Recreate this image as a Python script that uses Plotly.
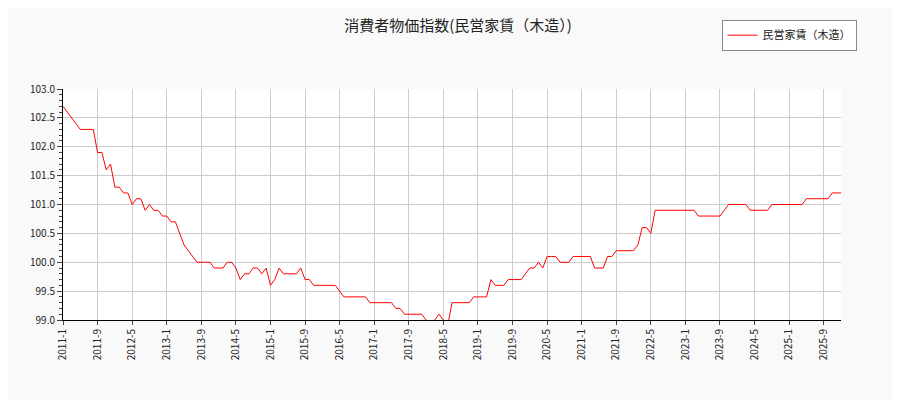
import plotly.graph_objects as go
import pandas as pd

y2011 = [102.7,102.6,102.5,102.4,102.3,102.3,102.3,102.3,101.9,101.9,101.6,101.7]
y2012 = [101.3,101.3,101.2,101.2,101.0,101.1,101.1,100.9,101.0,100.9,100.9,100.8]
y2013 = [100.8,100.7,100.7,100.5,100.3,100.2,100.1,100.0,100.0,100.0,100.0,99.9]
y2014 = [99.9,99.9,100.0,100.0,99.9,99.7,99.8,99.8,99.9,99.9,99.8,99.9]
y2015 = [99.6,99.7,99.9,99.8,99.8,99.8,99.8,99.9,99.7,99.7,99.6,99.6]
y2016 = [99.6,99.6,99.6,99.6,99.5,99.4,99.4,99.4,99.4,99.4,99.4,99.3]
y2017 = [99.3,99.3,99.3,99.3,99.3,99.2,99.2,99.1,99.1,99.1,99.1,99.1]
y2018 = [99.0,98.9,99.0,99.1,99.0,98.9,99.3,99.3,99.3,99.3,99.3,99.4]
y2019 = [99.4,99.4,99.4,99.7,99.6,99.6,99.6,99.7,99.7,99.7,99.7,99.8]
y2020 = [99.9,99.9,100.0,99.9,100.1,100.1,100.1,100.0,100.0,100.0,100.1,100.1]
y2021 = [100.1,100.1,100.1,99.9,99.9,99.9,100.1,100.1,100.2,100.2,100.2,100.2]
y2022 = [100.2,100.3,100.6,100.6,100.5,100.9,100.9,100.9,100.9,100.9,100.9,100.9]
y2023 = [100.9,100.9,100.9,100.8,100.8,100.8,100.8,100.8,100.8,100.9,101.0,101.0]
y2024 = [101.0,101.0,101.0,100.9,100.9,100.9,100.9,100.9,101.0,101.0,101.0,101.0]
y2025 = [101.0,101.0,101.0,101.0,101.1,101.1,101.1,101.1,101.1,101.1,101.2,101.2]
y2026 = [101.2]

values = (y2011+y2012+y2013+y2014+y2015+y2016+y2017+y2018+y2019+y2020
          +y2021+y2022+y2023+y2024+y2025+y2026)
dates = pd.date_range("2011-01-01", periods=len(values), freq="MS")
labels = [f"{d.year}-{d.month}" for d in dates]
x = list(range(len(values)))
tick_idx = list(range(0, len(values), 8))
tick_text = [labels[i] for i in tick_idx]

fig = go.Figure(go.Scatter(x=x, y=values, mode="lines", name="民営家賃（木造）",
                           line=dict(color="red", width=1)))
fig.update_layout(
    width=900, height=400,
    paper_bgcolor="#f9f9f9", plot_bgcolor="white",
    margin=dict(l=55, r=67, t=72, b=88),
    title=dict(text="消費者物価指数(民営家賃（木造）)", x=0.5, xanchor="center",
               yref="container", y=0.955, yanchor="middle",
               font=dict(size=15, color="#222", family="Noto Sans CJK JP")),
    font=dict(family="Noto Sans CJK JP", size=11, color="#222"),
    showlegend=True,
    legend=dict(x=1.02, y=1.3, xanchor="right", yanchor="top", bgcolor="white",
                bordercolor="#888", borderwidth=1, font=dict(size=11)),
)
fig.update_xaxes(range=[0, len(values)-1], tickvals=tick_idx, ticktext=tick_text,
                 tickangle=-90, showgrid=True, gridcolor="#cccccc", ticks="outside",
                 ticklen=4, showline=True, linecolor="black", tickfont=dict(size=10))
fig.update_yaxes(range=[99, 103], dtick=0.5, tickformat=".1f", showgrid=True,
                 gridcolor="#cccccc", ticks="outside", ticklen=5, showline=True,
                 linecolor="black", tickfont=dict(size=10),
                 minor=dict(dtick=0.1, ticks="outside", ticklen=3, showgrid=False))
fig.write_html("out.html")
